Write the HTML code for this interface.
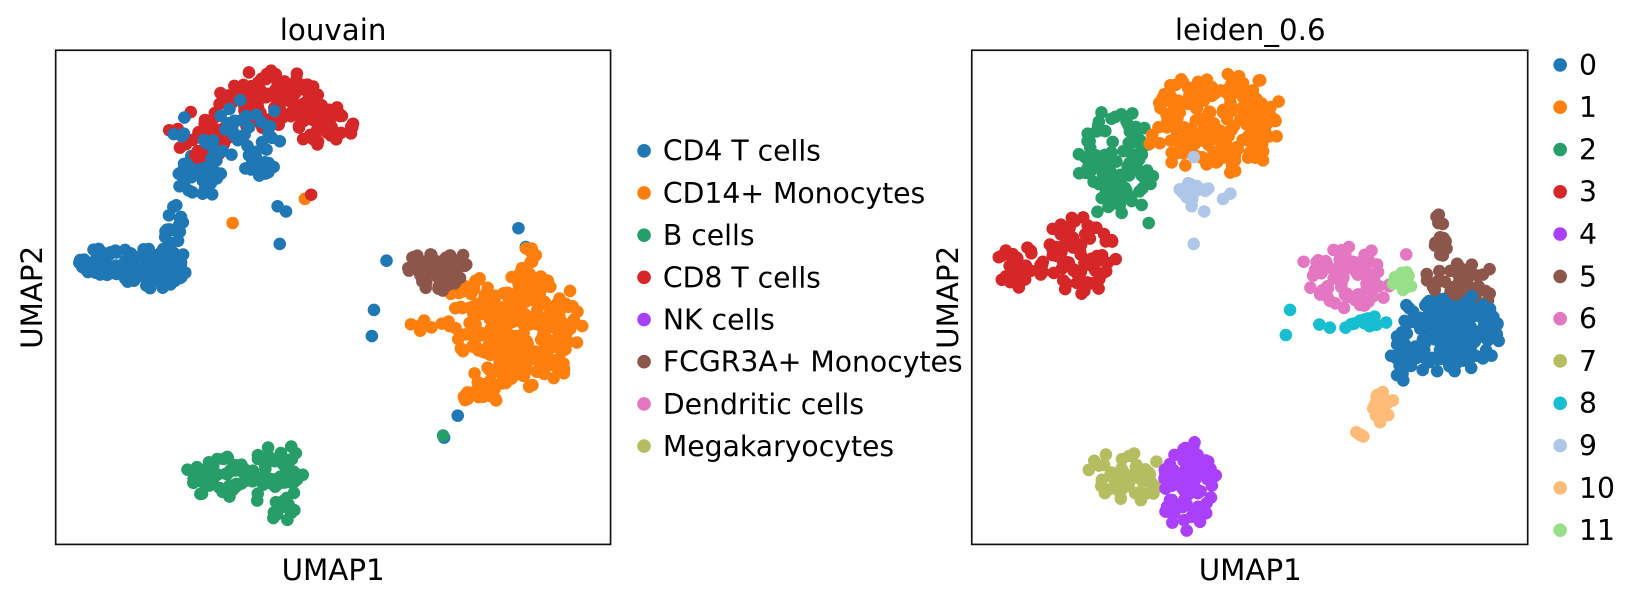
<!DOCTYPE html>
<html><head><meta charset="utf-8">
<style>
html,body{margin:0;padding:0;background:#fff;}
svg{display:block;}
text{font-family:"DejaVu Sans","Liberation Sans",sans-serif;fill:#000;}
</style></head>
<body>
<svg id="s" width="1642" height="602" viewBox="0 0 1568 575" xmlns="http://www.w3.org/2000/svg">
<g id="pts"></g>
<rect x="53" y="48" width="530" height="472" fill="none" stroke="#111" stroke-width="1.6"/>
<rect x="928" y="48" width="531" height="472" fill="none" stroke="#111" stroke-width="1.6"/>
<text x="318" y="38" font-size="28" text-anchor="middle">louvain</text>
<text x="1194" y="38" font-size="28" text-anchor="middle">leiden_0.6</text>
<text x="318" y="554" font-size="28" text-anchor="middle">UMAP1</text>
<text x="1194" y="554" font-size="28" text-anchor="middle">UMAP1</text>
<text transform="translate(40,284) rotate(-90)" font-size="28" text-anchor="middle">UMAP2</text>
<text transform="translate(915,284) rotate(-90)" font-size="28" text-anchor="middle">UMAP2</text>
<g id="leg1" font-size="27"></g>
<g id="leg2" font-size="27"></g>
</svg>
<script>
var C=["#1f77b4","#ff7f0e","#279e68","#d62728","#aa40fc","#8c564b","#e377c2","#b5bd61","#17becf","#aec7e8","#ffbb78","#98df8a"];
var s=12345;function r(){s=(s*1103515245+12345)%2147483648;return s/2147483648;}
var out=[];
function cl(cx,cy,rx,ry,n,c){for(var i=0;i<n;i++){var a=r()*6.2832,q=Math.sqrt(r());if(r()<0.15)q=1+r()*0.25;var x=cx+Math.cos(a)*q*rx,y=cy+Math.sin(a)*q*ry;out.push('<circle cx="'+x.toFixed(1)+'" cy="'+y.toFixed(1)+'" r="6" fill="'+C[c]+'"/>');}}
function pt(x,y,c){out.push('<circle cx="'+x+'" cy="'+y+'" r="6" fill="'+C[c]+'"/>');}
// left plot
cl(100,250,25,14,50,0);cl(150,255,28,20,80,0);cl(165,218,9,22,18,0);cl(190,165,18,22,35,0);cl(248,160,14,8,12,0);
cl(260,95,45,24,120,3);cl(310,118,28,18,40,3);cl(195,130,28,22,40,3);cl(220,125,45,25,40,0);
[[265,197],[273,202],[267,233],[357,296],[355,321],[369,249],[424,418],[437,397],[495,218],[502,236]].forEach(function(p){pt(p[0],p[1],0);});
pt(222,213,1);pt(291,190,1);pt(297,186,3);
cl(505,315,42,45,220,1);cl(452,300,25,32,50,1);cl(465,360,15,25,25,1);cl(448,382,8,8,6,1);cl(400,311,15,4,6,1);cl(505,262,10,25,12,1);
cl(420,258,27,16,50,5);pt(423,416,2);
cl(210,455,28,17,45,2);cl(265,460,20,32,60,2);
// right plot
cl(1065,155,30,45,110,2);cl(1160,115,55,42,220,1);cl(1140,182,16,7,12,9);
[[1138,197],[1150,202],[1168,190],[1175,185],[1140,233],[1140,150]].forEach(function(p){pt(p[0],p[1],9);});
pt(1097,213,2);
cl(1030,245,30,32,80,3);cl(975,255,22,17,35,3);
cl(1290,268,32,27,80,6);pt(1245,250,6);pt(1343,243,6);
cl(1340,268,9,8,12,11);
cl(1375,225,7,22,14,5);cl(1395,270,27,24,45,5);
[[1232,296],[1228,320],[1260,310],[1270,313],[1285,313]].forEach(function(p){pt(p[0],p[1],8);});
cl(1308,308,16,6,14,8);
cl(1380,318,42,33,170,0);cl(1340,345,12,20,20,0);
cl(1320,385,10,15,14,10);cl(1300,415,4,6,4,10);
cl(1075,455,30,22,50,7);cl(1135,460,24,38,85,4);
document.getElementById('pts').innerHTML=out.join('');
var L1=["CD4 T cells","CD14+ Monocytes","B cells","CD8 T cells","NK cells","FCGR3A+ Monocytes","Dendritic cells","Megakaryocytes"];
var h='';L1.forEach(function(t,i){var y=144+i*40.3;h+='<circle cx="615" cy="'+y+'" r="6.5" fill="'+C[i]+'"/><text x="633" y="'+(y+9.5)+'">'+t+'</text>';});
document.getElementById('leg1').innerHTML=h;
h='';for(var i=0;i<12;i++){var y=62+i*40.4;h+='<circle cx="1490" cy="'+y+'" r="6.5" fill="'+C[i]+'"/><text x="1508" y="'+(y+9.5)+'">'+i+'</text>';}
document.getElementById('leg2').innerHTML=h;
</script>
</body></html>
